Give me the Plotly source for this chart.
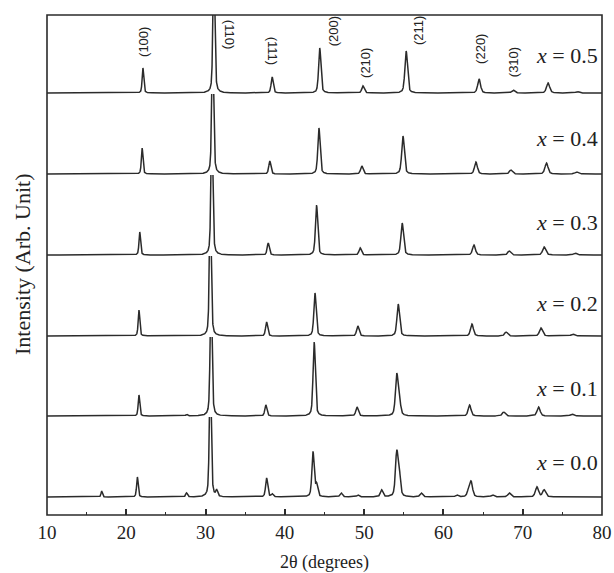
import numpy as np
import plotly.graph_objects as go

# Compositions, listed from the top trace to the bottom trace
compositions = ["0.5", "0.4", "0.3", "0.2", "0.1", "0.0"]

# Reflection centres (2θ, degrees) and peak heights (arb. units) for each sample
pos_05 = [22.1, 31.05, 38.4, 44.4, 49.85, 55.3, 64.5, 68.8, 73.2, 76.9]
amp_05 = [25, 140, 16, 45, 7, 42, 14, 3, 10, 1.5]

pos_04 = [22.0, 30.9, 38.1, 44.3, 49.7, 54.9, 64.1, 68.5, 73.0, 76.8]
amp_04 = [26, 140, 13, 46, 8, 38, 12, 4, 11, 2]

pos_03 = [21.7, 30.8, 37.9, 44.0, 49.5, 54.8, 63.85, 68.3, 72.7, 76.6]
amp_03 = [23, 140, 12, 50, 7, 32, 10, 4, 8, 2]

pos_02 = [21.6, 30.6, 37.7, 43.8, 49.2, 54.3, 63.6, 67.9, 72.3, 76.3]
amp_02 = [26, 140, 14, 43, 10, 32, 12, 4, 8, 2]

pos_01 = [21.6, 27.6, 30.7, 37.6, 43.7, 49.1, 54.1, 54.4, 63.3, 67.6, 72.0, 76.2]
amp_01 = [21, 1.5, 140, 11, 74, 9, 38, 20, 11, 4, 9, 2]

pos_00 = [16.9, 21.4, 27.6, 30.6, 31.4, 37.7, 38.4, 43.55, 44.0, 47.1, 49.2,
          52.2, 54.1, 54.4, 57.2, 61.7, 63.2, 63.5, 66.2, 68.3, 71.8, 72.7]
amp_00 = [6, 20, 4, 140, 6, 19, 3, 45, 12, 4, 2,
          7, 41, 25, 4, 2, 7, 14, 2, 4, 10, 7]

peak_positions = [pos_05, pos_04, pos_03, pos_02, pos_01, pos_00]
peak_heights = [amp_05, amp_04, amp_03, amp_02, amp_01, amp_00]

hkl_labels = ["(100)", "(110)", "(111)", "(200)", "(210)", "(211)", "(220)", "(310)"]

two_theta = np.linspace(10, 80, 7001)


def pattern(centres, heights):
    """Pseudo-Voigt sum of reflections; width grows slowly with angle."""
    y = np.zeros_like(two_theta)
    for c, h in zip(centres, heights):
        hw = 0.07 + 0.0022 * c
        lor = hw**2 / ((two_theta - c) ** 2 + hw**2)
        gau = np.exp(-np.log(2) * ((two_theta - c) / hw) ** 2)
        y += h * (0.55 * gau + 0.45 * lor)
    return y


# ---- panel geometry (pixel rows of the stacked panels inside the frame) ----
fig_w, fig_h = 614, 573
m_l, m_r, m_t, m_b = 47, 12, 15, 58
plot_top, plot_bot = m_t, fig_h - m_b
plot_h = plot_bot - plot_top
plot_w = fig_w - m_l - m_r
baselines = [93, 174, 255, 336, 416, 497]
tops = [15, 94, 175, 256, 337, 417]
bottoms = [94, 175, 256, 337, 417, 515]

line_col = "#2b2b2b"
serif = "Liberation Serif, Times New Roman, serif"
sans = "Liberation Sans, Arial, sans-serif"

fig = go.Figure()
n = len(compositions)
axis_names = []
for i in range(n):
    # bottom panel uses 'y', the rest y2..y6 going upward
    k = n - i
    yname = "y" if k == 1 else f"y{k}"
    axis_names.append(yname)
    fig.add_trace(go.Scatter(
        x=two_theta, y=pattern(peak_positions[i], peak_heights[i]),
        mode="lines", line=dict(color=line_col, width=1.5),
        xaxis="x", yaxis=yname, showlegend=False, hoverinfo="skip",
    ))
    lay_key = "yaxis" if k == 1 else f"yaxis{k}"
    d0 = (plot_bot - bottoms[i]) / plot_h
    d1 = (plot_bot - tops[i]) / plot_h
    fig.layout[lay_key] = dict(
        domain=[max(d0, 0), min(d1, 1)],
        range=[-(bottoms[i] - baselines[i]), baselines[i] - tops[i]],
        showticklabels=False, showgrid=False, zeroline=False, ticks="",
        showline=False, fixedrange=True, anchor="x", automargin=False,
    )

fig.update_layout(
    width=fig_w, height=fig_h,
    margin=dict(l=m_l, r=m_r, t=m_t, b=m_b),
    paper_bgcolor="white", plot_bgcolor="white",
    xaxis=dict(
        range=[10, 80], anchor="y", domain=[0, 1], automargin=False,
        tickmode="array", tickvals=list(range(10, 81, 10)),
        ticks="inside", ticklen=6, tickwidth=1.5, tickcolor=line_col,
        minor=dict(tickmode="array", tickvals=list(range(15, 80, 10)),
                   ticks="inside", ticklen=3, tickwidth=1.2, tickcolor=line_col),
        showgrid=False, zeroline=False, showline=False,
        ticklabelstandoff=4,
        tickfont=dict(family=serif, size=19, color="#222"),
        title=dict(text="2θ (degrees)", font=dict(family=serif, size=18, color="#222"),
                   standoff=14),
    ),
)

# outer frame
fig.add_shape(type="rect", xref="paper", yref="paper", x0=0, x1=1, y0=0, y1=1,
              line=dict(color=line_col, width=1.6), layer="above")

# Miller indices above the top pattern: (x in 2θ, y in top-panel units, angle)
top_axis = axis_names[0]
hkl_place = [(22.1, 51, -90), (33.1, 59, 90), (38.55, 42, 90), (46.1, 62, -90),
             (50.1, 30, -90), (56.8, 62, -90), (64.6, 44, -90), (68.8, 31, -90)]
for lab, (xp, yp, ang) in zip(hkl_labels, hkl_place):
    fig.add_annotation(x=xp, y=yp, xref="x", yref=top_axis, text=lab,
                       showarrow=False, textangle=ang,
                       xanchor="center", yanchor="middle",
                       font=dict(family=sans, size=13, color="#222"))

# composition labels at the right of each panel
label_rise = [38, 36, 32, 33, 28, 35]
for i, comp in enumerate(compositions):
    fig.add_annotation(x=1.0, xref="paper", xshift=-2,
                       y=label_rise[i], yref=axis_names[i],
                       xanchor="right", yanchor="middle", showarrow=False,
                       text=f"<i>x</i> = {comp}",
                       font=dict(family=serif, size=22, color="#222"))

# y-axis title
fig.add_annotation(x=(22 - m_l) / plot_w, xref="paper",
                   y=(plot_bot - 265) / plot_h, yref="paper",
                   xanchor="center", yanchor="middle",
                   text="Intensity (Arb. Unit)", textangle=-90, showarrow=False,
                   font=dict(family=serif, size=22, color="#222"))

fig.write_html("out.html")
